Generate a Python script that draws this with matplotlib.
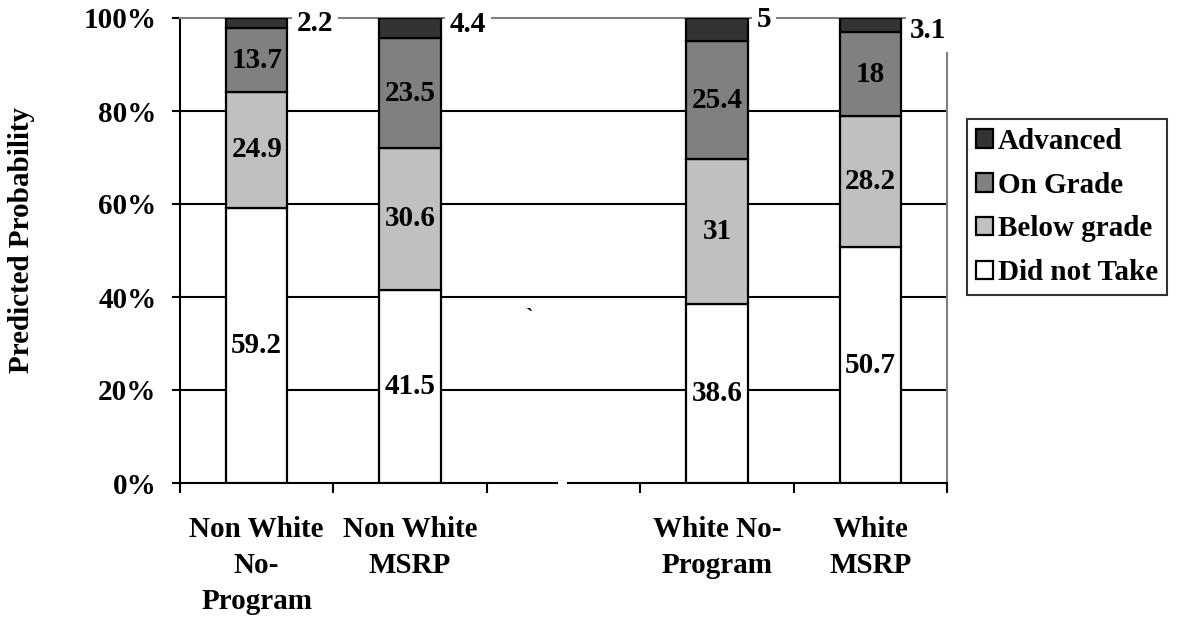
import matplotlib
matplotlib.use("Agg")
import matplotlib.pyplot as plt
import matplotlib.transforms as mtransforms
from matplotlib.patches import Rectangle

plt.rcParams["font.family"] = ["Liberation Serif", "DejaVu Serif"]
plt.rcParams["font.weight"] = "bold"

# predicted probabilities (%) per group, stacked bottom to top
categories = ["Non White\nNo-\nProgram", "Non White\nMSRP", "White No-\nProgram", "White\nMSRP"]
did_not_take = [59.2, 41.5, 38.6, 50.7]
below_grade = [24.9, 30.6, 31, 28.2]
on_grade = [13.7, 23.5, 25.4, 18]
advanced = [2.2, 4.4, 5, 3.1]

series = [
    ("Did not Take", did_not_take, "#ffffff"),
    ("Below grade", below_grade, "#c0c0c0"),
    ("On Grade", on_grade, "#808080"),
    ("Advanced", advanced, "#333333"),
]

slots = [0, 1, 3, 4]          # slot 2 is left empty between the two groups
adv_label_y = [98.9, 98.5, 99.6, 97.4]
FS = 21

fig = plt.figure(figsize=(11.78, 6.19), dpi=100)
ax = fig.add_axes([180 / 1178, 1 - 483 / 619, 767 / 1178, 465 / 619])

bottoms = [0.0] * len(slots)
handles = {}
for name, vals, color in series:
    bars = ax.bar(slots, vals, width=0.4, bottom=bottoms, color=color,
                  edgecolor="black", linewidth=1.6, zorder=3)
    handles[name] = bars
    for x, b, v in zip(slots, bottoms, vals):
        if name == "Advanced":
            continue
        ax.text(x, b + v / 2, f"{v:g}", ha="center", va="center",
                fontsize=FS, fontweight="bold", zorder=5)
    bottoms = [b + v for b, v in zip(bottoms, vals)]

# the thin top segment is labelled beside the bar
for x, y, v in zip(slots, adv_label_y, advanced):
    ax.text(x + 0.26, y, f"{v:g}", ha="left", va="center", fontsize=FS,
            fontweight="bold", zorder=6,
            bbox=dict(boxstyle="square,pad=0.16", fc="white", ec="none"))

ax.set_xlim(-0.5, 4.5)
ax.set_ylim(0, 100)
ax.set_yticks([0, 20, 40, 60, 80, 100])
ax.set_yticklabels([f"{t}%" for t in [0, 20, 40, 60, 80, 100]])
for y in [20, 40, 60, 80]:
    ax.axhline(y, color="black", linewidth=1.5, zorder=1)

ax.set_xticks(slots)
ax.set_xticklabels(categories, linespacing=1.42)
ax.set_xticks([-0.5, 0.5, 1.5, 2.5, 3.5, 4.5], minor=True)
ax.tick_params(axis="x", which="major", length=0, pad=24, labelsize=FS)
ax.tick_params(axis="x", which="minor", length=7, width=1.5, direction="out")
ax.tick_params(axis="y", length=6, width=1.5, direction="out", pad=11, labelsize=FS)
for lab in ax.get_xticklabels() + ax.get_yticklabels():
    lab.set_fontweight("bold")

ax.spines["left"].set_linewidth(1.5)
ax.spines["bottom"].set_linewidth(1.5)
ax.spines["top"].set_color("#808080")
ax.spines["top"].set_linewidth(1.5)
ax.spines["right"].set_color("#808080")
ax.spines["right"].set_linewidth(1.5)
ax.spines["right"].set_bounds(0, 92.5)

# small break in the category axis and a stray mark in the empty slot
trans = mtransforms.blended_transform_factory(ax.transData, ax.transAxes)
ax.add_patch(Rectangle((1.965, -0.01), 0.058, 0.02, transform=trans,
                       facecolor="white", edgecolor="none", zorder=10, clip_on=False))
ax.text(1.78, 35.5, "`", ha="center", va="center", fontsize=16, zorder=5)

fig.text(22 / 1178, 1 - 240 / 619, "Predicted Probability", rotation=90,
         ha="center", va="center", fontsize=21, fontweight="bold")

order = ["Advanced", "On Grade", "Below grade", "Did not Take"]
leg = fig.legend([handles[n] for n in order], order, loc="center left",
                 bbox_to_anchor=(967 / 1178, 1 - 207 / 619), frameon=True,
                 fancybox=False, edgecolor="black", fontsize=FS,
                 handlelength=0.6, handleheight=0.6, handletextpad=0.15,
                 labelspacing=0.58, borderpad=0.3, borderaxespad=0)
leg.get_frame().set_linewidth(1.5)
for t in leg.get_texts():
    t.set_fontweight("bold")

fig.savefig("out.png", dpi=100, facecolor="white")
